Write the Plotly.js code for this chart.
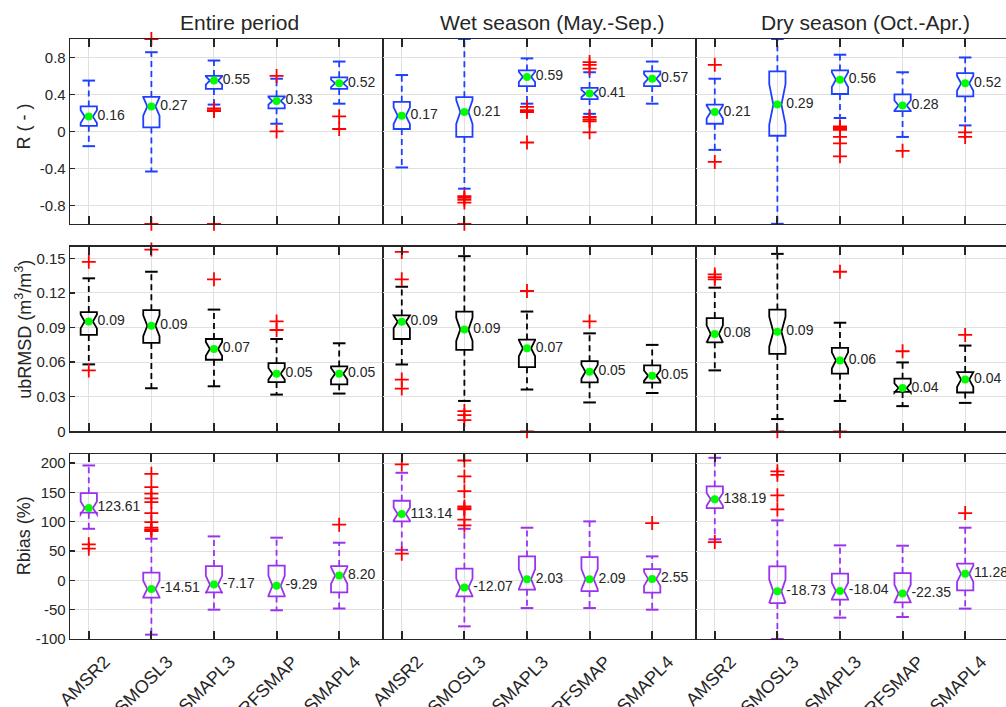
<!DOCTYPE html>
<html><head><meta charset="utf-8">
<script src="https://cdn.plot.ly/plotly-3.0.1.min.js"></script>
<style>html,body{margin:0;padding:0;overflow:hidden;background:#fff}#chart{width:1012px;height:707px}</style>
</head><body><div id="chart"></div>
<script>
const products = ['AMSR2','SMOSL3','SMAPL3','RFSMAP','SMAPL4'];
const periods = ['Entire period','Wet season (May.-Sep.)','Dry season (Oct.-Apr.)'];
const metricTitles = ['R ( - )','ubRMSD (m<sup>3</sup>/m<sup>3</sup>)','Rbias (%)'];
const boxColors = ['#1f3fff','#000000','#9933ee'];

// ---- R ----
const R_q1  = [[0.06,0.043,0.46,0.25,0.46],[0.026,-0.06,0.49,0.35,0.49],[0.083,-0.047,0.405,0.22,0.38]];
const R_med = [[0.16,0.27,0.55,0.33,0.52],[0.17,0.21,0.59,0.41,0.57],[0.21,0.29,0.56,0.28,0.52]];
const R_q3  = [[0.27,0.373,0.60,0.38,0.585],[0.32,0.37,0.66,0.47,0.65],[0.29,0.65,0.66,0.40,0.63]];
const R_lo  = [[-0.16,-0.434,0.29,0.083,0.30],[-0.39,-0.62,0.30,0.19,0.30],[-0.2,-1.0,0.145,-0.06,0.065]];
const R_hi  = [[0.55,0.857,0.767,0.57,0.756],[0.61,1.0,0.79,0.64,0.756],[0.57,1.0,0.83,0.64,0.80]];
const R_notch = [[0.07,0.10,0.045,0.04,0.04],[0.09,0.13,0.055,0.04,0.05],[0.07,0.22,0.08,0.055,0.08]];
const R_out = [
  [[],[1.0,-1.0],[0.25,0.23,0.22,-1.0],[0.60,0.0],[0.163,0.026]],
  [[],[-0.70,-0.72,-0.74,-0.77,-1.0],[0.265,0.23,0.21,-0.12],[0.75,0.72,0.68,0.156,0.13,0.11,-0.01],[]],
  [[0.72,-0.33],[],[0.055,0.045,0.037,0.028,0.018,-0.06,-0.13,-0.27],[-0.21],[-0.01,-0.06]]
];
const R_labels = [['0.16','0.27','0.55','0.33','0.52'],['0.17','0.21','0.59','0.41','0.57'],['0.21','0.29','0.56','0.28','0.52']];

// ---- ubRMSD ----
const U_q1  = [[0.0835,0.0766,0.062,0.0427,0.0407],[0.080,0.0706,0.0556,0.0424,0.0422],[0.0771,0.0671,0.0499,0.0341,0.0336]];
const U_med = [[0.0952,0.0915,0.0714,0.0499,0.0499],[0.0949,0.0883,0.072,0.0516,0.0482],[0.0844,0.0863,0.0614,0.0375,0.0448]];
const U_q3  = [[0.1033,0.105,0.080,0.059,0.0562],[0.1004,0.1038,0.0795,0.0608,0.0571],[0.0981,0.1055,0.0723,0.0456,0.0513]];
const U_lo  = [[0.058,0.0373,0.039,0.0318,0.0327],[0.0579,0.0263,0.0362,0.025,0.0332],[0.0528,0.0106,0.0263,0.0218,0.0246]];
const U_hi  = [[0.1326,0.1383,0.1055,0.080,0.0763],[0.1253,0.1518,0.1038,0.0849,0.0749],[0.1245,0.1538,0.0941,0.0597,0.0743]];
const U_notch = [[0.006,0.009,0.006,0.005,0.005],[0.0055,0.01,0.007,0.006,0.0045],[0.0075,0.013,0.007,0.004,0.0065]];
const U_out = [
  [[0.1469,0.0528],[0.1575],[0.1317],[0.0952,0.0878],[]],
  [[0.1555,0.1317,0.0448,0.037],[0.0175,0.014,0.0097],[0.1216,0.0],[0.0952],[]],
  [[0.136,0.1337,0.1317],[0.0],[0.1383,0.0],[0.0694],[0.0835]]
];
const U_labels = [['0.09','0.09','0.07','0.05','0.05'],['0.09','0.09','0.07','0.05','0.05'],['0.08','0.09','0.06','0.04','0.04']];

// ---- Rbias ----
const B_q1  = [[115.4,-29.5,-20.5,-27.3,-20.5],[100.6,-27.3,-15.9,-18.2,-21],[123.2,-38.7,-32.9,-37.5,-17]];
const B_med = [[123.61,-14.51,-7.17,-9.29,8.20],[113.14,-12.07,2.03,2.09,2.55],[138.19,-18.73,-18.04,-22.35,11.28]];
const B_q3  = [[148.8,13.1,24.4,25,24.4],[135.8,20,40.9,39.7,19.3],[160.2,23.9,11.4,12.5,28.5]];
const B_lo  = [[88,-92.6,-50,-51,-48],[52,-78.4,-47.2,-47.2,-50],[70,-100,-63.6,-62.5,-48.2]];
const B_hi  = [[196,71,75,72.8,64.2],[183.5,88,89.8,100.6,40.9],[209,102.3,59.7,59.1,89.8]];
const B_notch = [[11,14,15,17,14],[11,15,17,17,12],[11,20,14,15,14]];
const B_out = [
  [[61.4,54],[181.8,159,147.8,140,133.5,114.8,99.4,89.8,87,85.5,84],[],[],[95]],
  [[197.7,45.5],[204.5,177.3,152.2,126,123,121,103.5,93.8],[],[],[97.7]],
  [[65.3],[186,180,145,121],[],[],[114.8]]
];
const B_labels = [['123.61','-14.51','-7.17','-9.29','8.20'],['113.14','-12.07','2.03','2.09','2.55'],['138.19','-18.73','-18.04','-22.35','11.28']];

const yRanges = [[-1,1],[0,0.16],[-100,215]];
const yTickVals = [[-0.8,-0.4,0,0.4,0.8],[0,0.03,0.06,0.09,0.12,0.15],[-100,-50,0,50,100,150,200]];
const yTickText = [['-0.8','-0.4','0','0.4','0.8'],['0','0.03','0.06','0.09','0.12','0.15'],['-100','-50','0','50','100','150','200']];

const metrics = [
  {q1:R_q1,med:R_med,q3:R_q3,lo:R_lo,hi:R_hi,notch:R_notch,out:R_out,labels:R_labels},
  {q1:U_q1,med:U_med,q3:U_q3,lo:U_lo,hi:U_hi,notch:U_notch,out:U_out,labels:U_labels},
  {q1:B_q1,med:B_med,q3:B_q3,lo:B_lo,hi:B_hi,notch:B_notch,out:B_out,labels:B_labels}
];

const FONT = 'Liberation Sans, Arial, Helvetica, sans-serif';
const INK = '#262626';
const traces = [];
const layout = {
  width:1012, height:707, margin:{l:70,r:3,t:39,b:68},
  paper_bgcolor:'#ffffff', plot_bgcolor:'#ffffff', showlegend:false,
  font:{family:FONT, color:INK}, annotations:[]
};
const xDom = [[0,1/3],[1/3,2/3],[2/3,1]];
const yDom = [[0.692,1],[0.3462,0.6538],[0,0.3078]];

metrics.forEach((m, r) => {
  periods.forEach((p, c) => {
    const idx = r*3 + c + 1;
    const sfx = idx === 1 ? '' : String(idx);
    const xa = 'x' + sfx, ya = 'y' + sfx;
    const col = boxColors[r];
    const wx = [], wy = [];
    products.forEach((pr, k) => {
      wx.push(pr, pr, null, pr, pr, null);
      wy.push(m.q3[c][k], m.hi[c][k], null, m.q1[c][k], m.lo[c][k], null);
    });
    traces.push({type:'scatter', mode:'lines', x:wx, y:wy, xaxis:xa, yaxis:ya,
      line:{color:col, width:1.8, dash:'6px,4px'}, hoverinfo:'skip', connectgaps:false});
    traces.push({type:'scatter', mode:'markers', x:products.concat(products), y:m.hi[c].concat(m.lo[c]),
      xaxis:xa, yaxis:ya, cliponaxis:false, hoverinfo:'skip',
      marker:{symbol:'line-ew', size:9, color:col, line:{color:col, width:2}}});
    traces.push({type:'box', x:products, q1:m.q1[c], median:m.med[c], q3:m.q3[c],
      lowerfence:m.q1[c], upperfence:m.q3[c], notched:true, notchspan:m.notch[c], notchwidth:0.25,
      width:0.26, whiskerwidth:0, boxpoints:false, xaxis:xa, yaxis:ya,
      line:{color:col, width:1.8}, fillcolor:'rgba(0,0,0,0)', hoverinfo:'skip'});
    const ox = [], oy = [];
    products.forEach((pr, k) => m.out[c][k].forEach(v => { ox.push(pr); oy.push(v); }));
    traces.push({type:'scatter', mode:'markers', x:ox, y:oy, xaxis:xa, yaxis:ya, cliponaxis:false, hoverinfo:'skip',
      marker:{symbol:'cross-thin', size:10, color:'#ff0000', line:{color:'#ff0000', width:1.8}}});
    traces.push({type:'scatter', mode:'markers+text', x:products, y:m.med[c],
      text:m.labels[c].map(s => '\u2009' + s),
      textposition:'middle right', textfont:{size:14, color:INK, family:FONT},
      xaxis:xa, yaxis:ya, cliponaxis:false, hoverinfo:'skip',
      marker:{color:'#00ff00', size:8}});

    layout['xaxis'+sfx] = {domain:xDom[c], anchor:ya, type:'category', categoryorder:'array', categoryarray:products,
      range:[-0.3,4.7], showgrid:true, gridcolor:'#e0e0e0', gridwidth:1, showline:true, linecolor:INK, linewidth:1.3,
      mirror:'ticks', ticks:'inside', ticklen:8, tickwidth:2, tickcolor:INK,
      showticklabels: r === 2, tickangle:-45, ticklabelshift:16, ticklabelstandoff:4,
      tickfont:{size:18, color:INK}, zeroline:false, fixedrange:true};
    layout['yaxis'+sfx] = {domain:yDom[r], anchor:xa, range:yRanges[r], tickmode:'array',
      tickvals:yTickVals[r], ticktext:yTickText[r], showgrid:true, gridcolor:'#e0e0e0', gridwidth:1,
      showline:true, linecolor:INK, linewidth:1.3, mirror:true,
      ticks: c === 0 ? 'inside' : '', ticklen:5, tickwidth:1.5, tickcolor:INK,
      showticklabels: c === 0, tickfont:{size:15, color:INK}, zeroline:false, fixedrange:true};
  });
});

const titleX = [0.18, 0.5133, 0.8477];
periods.forEach((p, c) => layout.annotations.push({text:p, xref:'paper', yref:'paper', x:titleX[c], y:1.027,
  xanchor:'center', yanchor:'middle', showarrow:false, font:{size:21, color:INK, family:FONT}}));
const ytY = [0.854, 0.517, 0.173];
metricTitles.forEach((t, r) => layout.annotations.push({text:t, xref:'paper', yref:'paper', x:-0.049, y:ytY[r],
  xanchor:'center', yanchor:'middle', textangle:-90, showarrow:false, font:{size:18, color:INK, family:FONT}}));

Plotly.newPlot('chart', traces, layout, {displayModeBar:false, staticPlot:true});
</script>
</body></html>
